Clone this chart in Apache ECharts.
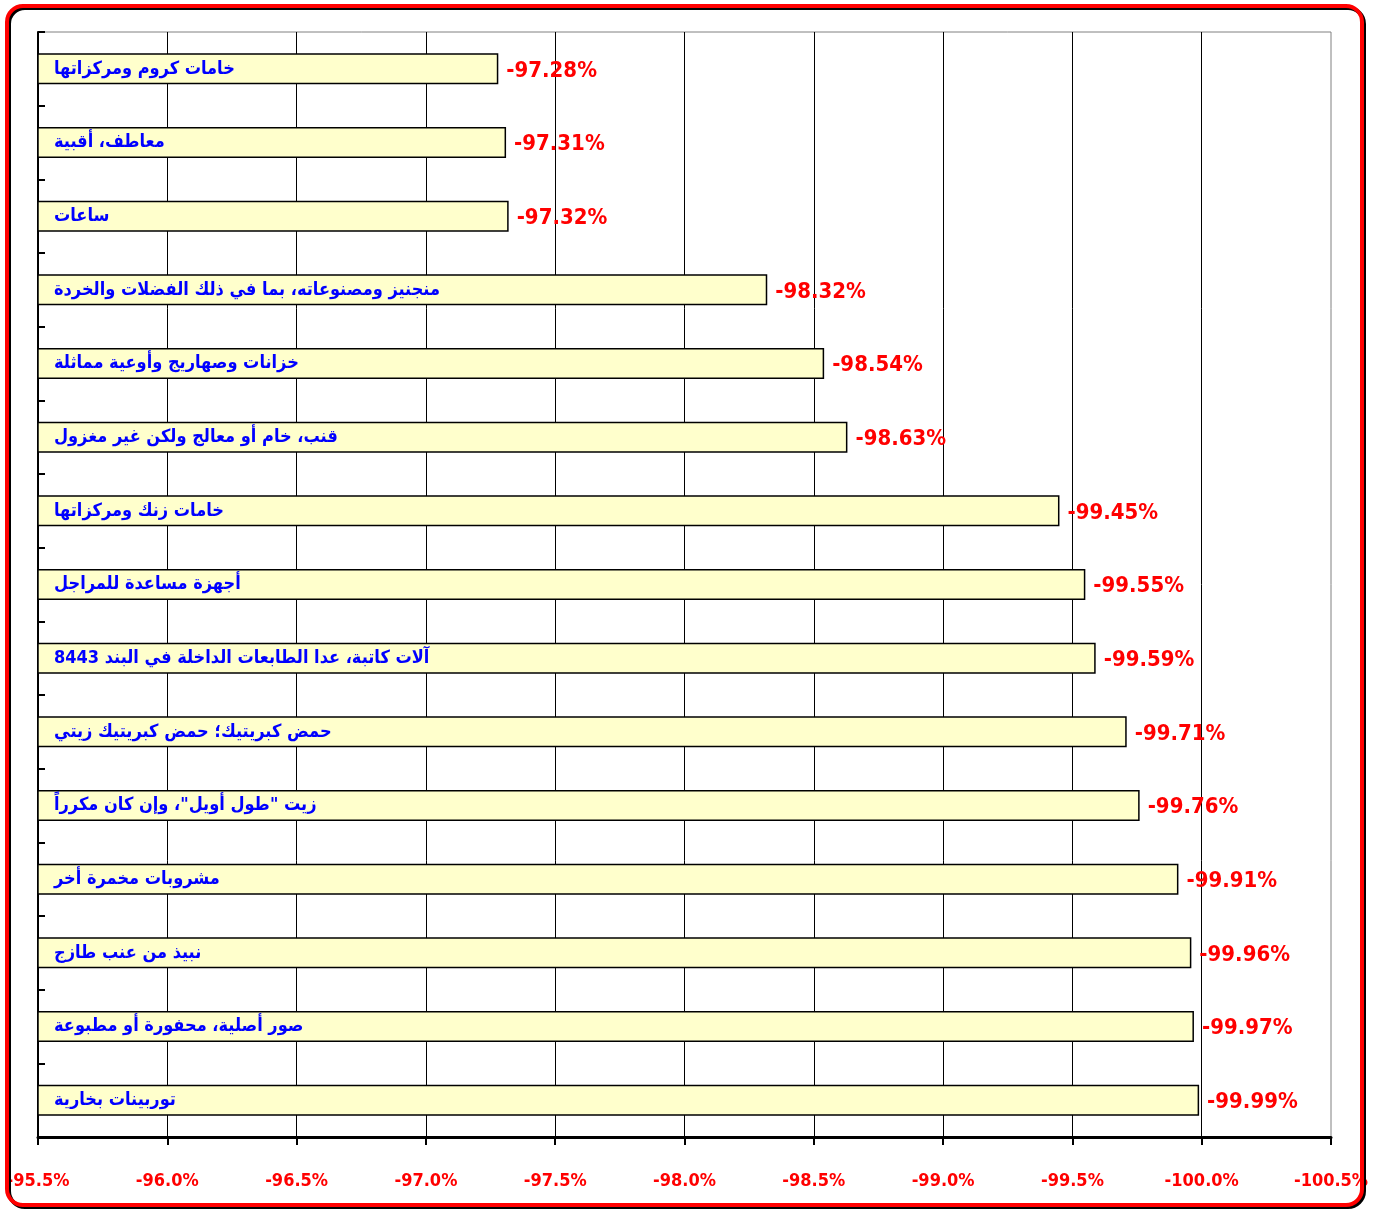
<!DOCTYPE html>
<html>
<head>
<meta charset="utf-8">
<script src="https://cdn.jsdelivr.net/npm/echarts@6/dist/echarts.min.js"></script>
<style>
  html, body { margin: 0; padding: 0; background: #fff; }
  #chart { width: 1379px; height: 1212px; }
</style>
</head>
<body>
<div id="chart"></div>
<script>
// categories top to bottom
var categories = [
  'خامات كروم ومركزاتها',
  'معاطف، أقبية',
  'ساعات',
  'منجنيز ومصنوعاته، بما في ذلك الفضلات والخردة',
  'خزانات وصهاريج وأوعية مماثلة',
  'قنب، خام أو معالج ولكن غير مغزول',
  'خامات زنك ومركزاتها',
  'أجهزة مساعدة للمراجل',
  'آلات كاتبة، عدا الطابعات الداخلة في البند 8443',
  'حمض كبريتيك؛ حمض كبريتيك زيتي',
  'زيت "طول أويل"، وإن كان مكرراً',
  'مشروبات مخمرة أخر',
  'نبيذ من عنب طازج',
  'صور أصلية، محفورة أو مطبوعة',
  'توربينات بخارية'
];
var changeValues = [-97.28, -97.31, -97.32, -98.32, -98.54, -98.63, -99.45, -99.55,
  -99.59, -99.71, -99.76, -99.91, -99.96, -99.97, -99.99];
var axisMin = -100.5;
var axisMax = -95.5;
var axisStep = 0.5;

var narrowFont = '"DejaVu Sans Condensed", sans-serif';

var chart = echarts.init(document.getElementById('chart'));
chart.setOption({
  animation: false,
  backgroundColor: '#fff',
  grid: {
    left: 38, right: 48, top: 32, bottom: 75,
    show: true, borderColor: '#808080', borderWidth: 1
  },
  xAxis: {
    type: 'value',
    min: axisMin,
    max: axisMax,
    interval: axisStep,
    inverse: true,
    axisLine: { show: true, onZero: false, lineStyle: { color: '#000', width: 3 } },
    axisTick: { show: true, length: 8, lineStyle: { color: '#000', width: 2 } },
    splitLine: { show: true, showMaxLine: false, showMinLine: false, lineStyle: { color: '#000', width: 1 } },
    axisLabel: {
      margin: 35,
      color: '#ff0000',
      fontFamily: narrowFont,
      fontWeight: 'bold',
      fontSize: 18,
      formatter: function (v) { return v.toFixed(1) + '%'; }
    }
  },
  yAxis: {
    type: 'category',
    data: categories,
    inverse: true,
    axisLine: { show: true, lineStyle: { color: '#000', width: 2 } },
    axisTick: { show: true, inside: true, length: 7, lineStyle: { color: '#000', width: 2 } },
    axisLabel: { show: false },
    splitLine: { show: false }
  },
  series: [
    {
      type: 'bar',
      data: changeValues,
      barWidth: 31,
      clip: true,
      itemStyle: { color: '#ffffcc', borderColor: '#000', borderWidth: 1.5 },
      label: {
        show: true,
        position: 'right',
        distance: 8,
        offset: [0, 2],
        color: '#ff0000',
        fontFamily: narrowFont,
        fontWeight: 'bold',
        fontSize: 22,
        formatter: function (p) { return p.value.toFixed(2) + '%'; }
      }
    },
    {
      type: 'bar',
      data: changeValues,
      barWidth: 31,
      barGap: '-100%',
      clip: true,
      silent: true,
      itemStyle: { color: 'rgba(0,0,0,0)', borderWidth: 0 },
      label: {
        show: true,
        position: 'insideLeft',
        distance: 16,
        color: '#0000ff',
        fontFamily: '"DejaVu Sans Condensed", "DejaVu Sans", sans-serif',
        fontWeight: 'bold',
        fontSize: 18,
        formatter: '{b}'
      }
    }
  ],
  graphic: [
    {
      type: 'rect',
      z: 100,
      silent: true,
      shape: { x: 7, y: 6, width: 1355, height: 1199, r: 16 },
      style: {
        fill: 'none',
        stroke: '#ff0000',
        lineWidth: 4,
        shadowColor: '#000',
        shadowOffsetX: 2,
        shadowOffsetY: 2,
        shadowBlur: 0
      }
    }
  ]
});
</script>
</body>
</html>
